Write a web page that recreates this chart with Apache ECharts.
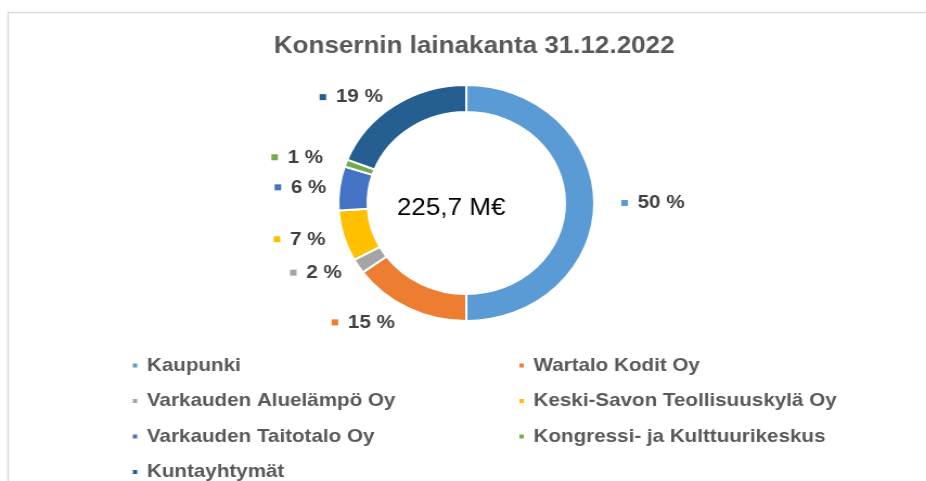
<!DOCTYPE html>
<html>
<head>
<meta charset="utf-8">
<script src="https://cdn.jsdelivr.net/npm/echarts@6/dist/echarts.min.js"></script>
<style>
  html, body { margin: 0; padding: 0; background: #fff; overflow: hidden; }
  /* alkuperäinen kuva on venytetty vaakasuunnassa, joten venytetään samoin */
  #chart { width: 854px; height: 481px; transform: scaleX(1.0844); transform-origin: 0 0; }
</style>
</head>
<body>
<div id="chart"></div>
<script>
// lainakanta, osuudet %
const names = ['Kaupunki', 'Wartalo Kodit Oy', 'Varkauden Aluelämpö Oy', 'Keski-Savon Teollisuuskylä Oy',
  'Varkauden Taitotalo Oy', 'Kongressi- ja Kulttuurikeskus', 'Kuntayhtymät']
const shares = [50, 15, 2, 7, 6, 1, 19]
const colors = ['#5B9BD5', '#ED7D31', '#A5A5A5', '#FFC000', '#4472C4', '#70AD47', '#255E91']
const leftLegend = ['Kaupunki', 'Varkauden Aluelämpö Oy', 'Varkauden Taitotalo Oy', 'Kuntayhtymät']
const rightLegend = ['Wartalo Kodit Oy', 'Keski-Savon Teollisuuskylä Oy', 'Kongressi- ja Kulttuurikeskus']
const totalText = '225,7 M€'

const font = "'Liberation Sans', Arial, sans-serif"
const myChart = echarts.init(document.getElementById('chart'))

// pienet värineliöt tunnisteiden eteen
let rich = { v: { fontSize: 19, fontWeight: 'bold', color: '#404040', fontFamily: font, padding: [0, 0, 0, 9] } }
colors.forEach((c, i) => {
  rich['s' + i] = { width: 6, height: 6, backgroundColor: c }
})

// tunnisteiden etäisyys renkaasta (Excelin "paras sovitus" -tyyliin)
const labelLen = [20, 16, 12, 12, 7, 17, 10]

const legendBase = {
  orient: 'vertical',
  icon: 'rect',
  itemWidth: 6,
  itemHeight: 6,
  itemGap: 16.5,
  height: 150,
  selectedMode: false,
  textStyle: { fontSize: 19, fontWeight: 'bold', color: '#595959', fontFamily: font, padding: [0, 0, 0, 3] }
}

const option = {
  color: colors,
  animation: false,
  textStyle: { fontFamily: font },
  title: {
    text: 'Konsernin lainakanta 31.12.2022',
    left: 247.5,
    top: 29,
    textStyle: { fontSize: 24, fontWeight: 'bold', color: '#595959', fontFamily: font }
  },
  legend: [
    Object.assign({}, legendBase, { left: 115.5, top: 351, data: leftLegend }),
    Object.assign({}, legendBase, { left: 472, top: 351, data: rightLegend })
  ],
  graphic: [{
    type: 'rect',
    silent: true,
    shape: { x: 7.5, y: 12.5, width: 900, height: 490 },
    style: { fill: 'none', stroke: '#d9d9d9', lineWidth: 1.5 }
  }, {
    type: 'text',
    left: 366,
    top: 196,
    style: { text: totalText, fontSize: 24, fill: '#000', fontFamily: font }
  }],
  series: [{
    type: 'pie',
    center: [430, 203],
    radius: [91, 118],
    startAngle: 90,
    clockwise: true,
    avoidLabelOverlap: true,
    itemStyle: { borderColor: '#fff', borderWidth: 2 },
    label: {
      position: 'outside',
      formatter: p => `{s${p.dataIndex}|}{v|${Math.round(p.percent)} %}`,
      rich: rich
    },
    labelLine: { show: false, length: 20, length2: 0 },
    emphasis: { disabled: true },
    data: names.map((n, i) => ({ name: n, value: shares[i], labelLine: { length: labelLen[i] } }))
  }]
}

myChart.setOption(option)
window.addEventListener('resize', function () {
  myChart.resize()
})
</script>
</body>
</html>
